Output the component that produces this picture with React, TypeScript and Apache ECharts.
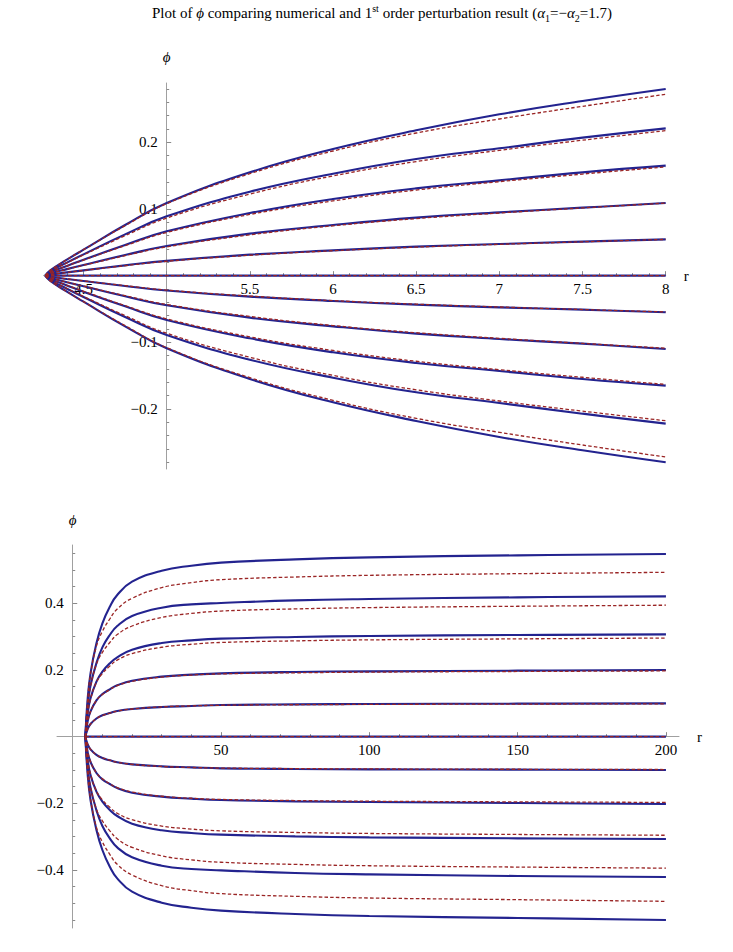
import React, { useEffect, useRef } from 'react';
import * as echarts from 'echarts';

// ---------- top chart (r from horizon to 8) ----------
const topR = [4.27, 4.3, 4.4, 4.5, 4.75, 5, 5.5, 6, 6.5, 7, 7.5, 8];
const topZero = [0, 0, 0, 0, 0, 0, 0, 0, 0, 0, 0, 0];
const topNumericalUpper = [
  [0, 0.0016, 0.0049, 0.008, 0.0155, 0.0222, 0.0315, 0.038, 0.0435, 0.0475, 0.051, 0.0545],
  [0, 0.0033, 0.0098, 0.016, 0.031, 0.0445, 0.063, 0.076, 0.087, 0.095, 0.102, 0.109],
  [0, 0.005, 0.0146, 0.024, 0.046, 0.0665, 0.094, 0.115, 0.131, 0.143, 0.155, 0.165],
  [0, 0.0066, 0.0196, 0.032, 0.062, 0.089, 0.126, 0.153, 0.175, 0.191, 0.207, 0.221],
  [0, 0.008, 0.024, 0.039, 0.076, 0.109, 0.155, 0.19, 0.218, 0.242, 0.262, 0.28],
];
const topNumericalLower = [
  [0, -0.0016, -0.0049, -0.008, -0.0155, -0.0222, -0.0315, -0.038, -0.0435, -0.0475, -0.051, -0.0548],
  [0, -0.0033, -0.0098, -0.016, -0.031, -0.0445, -0.063, -0.076, -0.087, -0.095, -0.102, -0.11],
  [0, -0.005, -0.0146, -0.024, -0.046, -0.0665, -0.094, -0.115, -0.131, -0.143, -0.155, -0.165],
  [0, -0.0066, -0.0196, -0.032, -0.062, -0.089, -0.126, -0.153, -0.175, -0.191, -0.207, -0.222],
  [0, -0.008, -0.024, -0.039, -0.076, -0.109, -0.155, -0.19, -0.218, -0.242, -0.262, -0.28],
];
const topPerturbUpper = [
  [0, 0.0016, 0.0048, 0.0078, 0.015, 0.0216, 0.0306, 0.0374, 0.0428, 0.047, 0.0508, 0.0544],
  [0, 0.0032, 0.0096, 0.0156, 0.03, 0.0432, 0.0612, 0.0748, 0.0856, 0.094, 0.1016, 0.1088],
  [0, 0.0048, 0.0144, 0.0234, 0.045, 0.0648, 0.0918, 0.1122, 0.1284, 0.141, 0.1524, 0.1632],
  [0, 0.0064, 0.0192, 0.0312, 0.06, 0.0864, 0.1224, 0.1496, 0.1712, 0.188, 0.2032, 0.2176],
  [0, 0.008, 0.024, 0.039, 0.075, 0.108, 0.153, 0.187, 0.214, 0.235, 0.254, 0.272],
];
const topPerturbLower = [
  [0, -0.0016, -0.0048, -0.0078, -0.015, -0.0216, -0.0306, -0.0374, -0.0428, -0.047, -0.0508, -0.0544],
  [0, -0.0032, -0.0096, -0.0156, -0.03, -0.0432, -0.0612, -0.0748, -0.0856, -0.094, -0.1016, -0.1088],
  [0, -0.0048, -0.0144, -0.0234, -0.045, -0.0648, -0.0918, -0.1122, -0.1284, -0.141, -0.1524, -0.1632],
  [0, -0.0064, -0.0192, -0.0312, -0.06, -0.0864, -0.1224, -0.1496, -0.1712, -0.188, -0.2032, -0.2176],
  [0, -0.008, -0.024, -0.039, -0.075, -0.108, -0.153, -0.187, -0.214, -0.235, -0.254, -0.272],
];
const topXTicks = [4.5, 5, 5.5, 6, 6.5, 7, 7.5, 8];
const topXLabels = [4.5, 5.5, 6, 6.5, 7, 7.5, 8];
const topYTicks = [-0.2, -0.1, 0.1, 0.2];
const topYLabels = [-0.2, -0.1, 0.1, 0.2];

// ---------- bottom chart (r from horizon to 200) ----------
const botR = [4.27, 5, 6, 8, 10, 12.5, 15, 20, 30, 40, 50, 75, 100, 150, 200];
const botZero = [0, 0, 0, 0, 0, 0, 0, 0, 0, 0, 0, 0, 0, 0, 0];
const botNumericalUpper = [
  [0, 0.0222, 0.038, 0.0545, 0.064, 0.071, 0.077, 0.083, 0.089, 0.092, 0.095, 0.097, 0.098, 0.099, 0.1],
  [0, 0.0445, 0.076, 0.109, 0.128, 0.142, 0.154, 0.168, 0.18, 0.186, 0.19, 0.194, 0.196, 0.198, 0.2],
  [0, 0.0665, 0.115, 0.165, 0.195, 0.22, 0.238, 0.261, 0.281, 0.289, 0.294, 0.299, 0.302, 0.305, 0.307],
  [0, 0.089, 0.153, 0.221, 0.268, 0.305, 0.332, 0.362, 0.387, 0.397, 0.401, 0.409, 0.413, 0.418, 0.421],
  [0, 0.109, 0.19, 0.28, 0.34, 0.39, 0.425, 0.465, 0.498, 0.513, 0.522, 0.532, 0.538, 0.544, 0.548],
];
const botNumericalLower = [
  [0, -0.0222, -0.038, -0.0545, -0.064, -0.071, -0.077, -0.083, -0.089, -0.092, -0.095, -0.097, -0.098, -0.099, -0.1],
  [0, -0.0445, -0.076, -0.109, -0.128, -0.142, -0.154, -0.168, -0.18, -0.186, -0.19, -0.194, -0.196, -0.199, -0.202],
  [0, -0.0665, -0.115, -0.165, -0.195, -0.22, -0.238, -0.261, -0.281, -0.289, -0.294, -0.299, -0.302, -0.305, -0.307],
  [0, -0.089, -0.153, -0.221, -0.268, -0.305, -0.332, -0.362, -0.387, -0.397, -0.401, -0.409, -0.413, -0.418, -0.421],
  [0, -0.109, -0.19, -0.28, -0.34, -0.39, -0.425, -0.465, -0.498, -0.513, -0.522, -0.532, -0.538, -0.544, -0.55],
];
const botPerturbUpper = [
  [0, 0.0216, 0.0374, 0.0544, 0.0632, 0.0706, 0.0766, 0.083, 0.0894, 0.0924, 0.0942, 0.0958, 0.0968, 0.0978, 0.0986],
  [0, 0.0432, 0.0748, 0.1088, 0.1264, 0.1412, 0.1532, 0.166, 0.1788, 0.1848, 0.1884, 0.1916, 0.1936, 0.1956, 0.1972],
  [0, 0.0648, 0.1122, 0.1632, 0.1896, 0.2118, 0.2298, 0.249, 0.2682, 0.2772, 0.2826, 0.2874, 0.2904, 0.2934, 0.2958],
  [0, 0.0864, 0.1496, 0.2176, 0.2528, 0.2824, 0.3064, 0.332, 0.3576, 0.3696, 0.3768, 0.3832, 0.3872, 0.3912, 0.3944],
  [0, 0.108, 0.187, 0.272, 0.316, 0.353, 0.383, 0.415, 0.447, 0.462, 0.471, 0.479, 0.484, 0.489, 0.493],
];
const botPerturbLower = [
  [0, -0.0216, -0.0374, -0.0544, -0.0632, -0.0706, -0.0766, -0.083, -0.0894, -0.0924, -0.0942, -0.0958, -0.0968, -0.0978, -0.0986],
  [0, -0.0432, -0.0748, -0.1088, -0.1264, -0.1412, -0.1532, -0.166, -0.1788, -0.1848, -0.1884, -0.1916, -0.1936, -0.1956, -0.1972],
  [0, -0.0648, -0.1122, -0.1632, -0.1896, -0.2118, -0.2298, -0.249, -0.2682, -0.2772, -0.2826, -0.2874, -0.2904, -0.2934, -0.2958],
  [0, -0.0864, -0.1496, -0.2176, -0.2528, -0.2824, -0.3064, -0.332, -0.3576, -0.3696, -0.3768, -0.3832, -0.3872, -0.3912, -0.3944],
  [0, -0.108, -0.187, -0.272, -0.316, -0.353, -0.383, -0.415, -0.447, -0.462, -0.471, -0.479, -0.484, -0.489, -0.494],
];
const botXTicks = [50, 100, 150, 200];
const botXLabels = [50, 100, 150, 200];
const botYTicks = [-0.4, -0.2, 0.2, 0.4];
const botYLabels = [-0.4, -0.2, 0.2, 0.4];

const SERIF = "'Liberation Serif', 'DejaVu Serif', serif";
const AXIS_GRAY = '#a0a0a0';
const TICK_GRAY = '#8a8a8a';
const SOLID = '#23238f';
const DASHED = '#9a2525';

function minorTicks(start: number, end: number, step: number, skip: number[]) {
  const out: number[] = [];
  const n = Math.round((end - start) / step);
  for (let i = 0; i <= n; i++) {
    const v = +(start + i * step).toFixed(4);
    if (!skip.some((s) => Math.abs(s - v) < 1e-6)) out.push(v);
  }
  return out;
}

const fmt = (v: number) => String(+(+v).toFixed(3)).replace('-', '\u2212');

function makeSeries(rs: number[], rows: number[][], xi: number, yi: number, dashed: boolean) {
  return rows.map((row) => ({
    type: 'line',
    xAxisIndex: xi,
    yAxisIndex: yi,
    data: rs.map((r, i) => [r, row[i]]),
    showSymbol: false,
    symbol: 'none',
    smooth: 0.45,
    silent: true,
    z: dashed ? 4 : 3,
    lineStyle: dashed
      ? { color: DASHED, width: 1.3, type: [3.5, 2.2] }
      : { color: SOLID, width: 2.1, type: 'solid' },
  }));
}

function mainAxis(dim: 'x' | 'y', grid: number, min: number, max: number, ticks: number[], labels: number[], extra: any) {
  return {
    type: 'value',
    gridIndex: grid,
    min,
    max,
    splitLine: { show: false },
    axisLine: { show: true, onZero: false, lineStyle: { color: AXIS_GRAY, width: 1 } },
    axisTick: { show: true, inside: true, length: 4.5, customValues: ticks, lineStyle: { color: TICK_GRAY, width: 1 } },
    axisLabel: {
      show: true,
      customValues: labels,
      formatter: fmt,
      fontFamily: SERIF,
      fontSize: 15,
      color: '#000',
      margin: dim === 'x' ? 6 : 9,
    },
    ...extra,
  };
}

function minorAxis(grid: number, min: number, max: number, ticks: number[], extra: any) {
  return {
    type: 'value',
    gridIndex: grid,
    min,
    max,
    splitLine: { show: false },
    axisLine: { show: false, onZero: false },
    axisTick: { show: true, inside: true, length: 2.5, customValues: ticks, lineStyle: { color: TICK_GRAY, width: 1 } },
    axisLabel: { show: false },
    ...extra,
  };
}

export default function App() {
  const ref = useRef<HTMLDivElement>(null);
  useEffect(() => {
    const chart = echarts.init(ref.current!, null, { renderer: 'svg' });

    // panel geometry (pixels)
    const topG = { left: 43.6, top: 83, width: 622.1, height: 386 };
    const topXMin = 4.26;
    const topXMax = 8;
    const topYMin = -0.29;
    const topYMax = 0.289;
    const botG = { left: 57, top: 545, width: 622, height: 383 };
    const botXMin = -5.3;
    const botXMax = 204.4;
    const botYMin = -0.574;
    const botYMax = 0.575;

    // axes cross at (5, 0) in the top panel and at (0, 0) in the bottom panel
    const topYOffset = -((5 - topXMin) / (topXMax - topXMin)) * topG.width;
    const topXOffset = -((0 - topYMin) / (topYMax - topYMin)) * topG.height;
    const botYOffset = -((0 - botXMin) / (botXMax - botXMin)) * botG.width;
    const botXOffset = -((0 - botYMin) / (botYMax - botYMin)) * botG.height;

    const nameStyle = { fontFamily: SERIF, fontSize: 15, color: '#000' };
    const phiStyle = { fontFamily: SERIF, fontSize: 15, color: '#000', fontStyle: 'italic' };

    const option: any = {
      animation: false,
      backgroundColor: '#fff',
      title: {
        left: 152,
        top: 2,
        padding: 0,
        text:
          '{n|Plot of }{i|\u03d5}{n| comparing numerical and 1}{sup|st}{n| order perturbation result (}{i|\u03b1}{sub|1}{n|=\u2212}{i|\u03b1}{sub|2}{n|=1.7)}',
        textStyle: {
          fontFamily: SERIF,
          fontSize: 15,
          fontWeight: 'normal',
          color: '#000',
          rich: {
            n: { fontFamily: SERIF, fontSize: 15, color: '#000', lineHeight: 21 },
            i: { fontFamily: SERIF, fontSize: 15, color: '#000', fontStyle: 'italic', lineHeight: 21 },
            sup: { fontFamily: SERIF, fontSize: 10, color: '#000', lineHeight: 10, verticalAlign: 'top', padding: [1, 0, 0, 0] },
            sub: { fontFamily: SERIF, fontSize: 10, color: '#000', lineHeight: 10, verticalAlign: 'bottom' },
          },
        },
      },
      grid: [
        { ...topG, containLabel: false },
        { ...botG, containLabel: false },
      ],
      xAxis: [
        mainAxis('x', 0, topXMin, topXMax, topXTicks, topXLabels, {
          position: 'bottom',
          offset: topXOffset,
          name: 'r',
          nameLocation: 'end',
          nameGap: 18,
          nameTextStyle: nameStyle,
        }),
        minorAxis(0, topXMin, topXMax, minorTicks(4.3, 8, 0.1, topXTicks), {
          position: 'bottom',
          offset: topXOffset,
        }),
        mainAxis('x', 1, botXMin, botXMax, botXTicks, botXLabels, {
          position: 'bottom',
          offset: botXOffset,
          name: 'r',
          nameLocation: 'end',
          nameGap: 18,
          nameTextStyle: nameStyle,
        }),
        minorAxis(1, botXMin, botXMax, minorTicks(10, 200, 10, botXTicks), {
          position: 'bottom',
          offset: botXOffset,
        }),
      ],
      yAxis: [
        mainAxis('y', 0, topYMin, topYMax, topYTicks, topYLabels, {
          position: 'left',
          offset: topYOffset,
          name: '\u03d5',
          nameLocation: 'end',
          nameGap: 19,
          nameTextStyle: phiStyle,
        }),
        minorAxis(0, topYMin, topYMax, minorTicks(-0.28, 0.28, 0.02, [...topYTicks, 0]), {
          position: 'left',
          offset: topYOffset,
        }),
        mainAxis('y', 1, botYMin, botYMax, botYTicks, botYLabels, {
          position: 'left',
          offset: botYOffset,
          name: '\u03d5',
          nameLocation: 'end',
          nameGap: 18,
          nameTextStyle: phiStyle,
        }),
        minorAxis(1, botYMin, botYMax, minorTicks(-0.55, 0.55, 0.05, [...botYTicks, 0]), {
          position: 'left',
          offset: botYOffset,
        }),
      ],
      series: [
        ...makeSeries(topR, [topZero, ...topNumericalUpper, ...topNumericalLower], 0, 0, false),
        ...makeSeries(topR, [topZero, ...topPerturbUpper, ...topPerturbLower], 0, 0, true),
        ...makeSeries(botR, [botZero, ...botNumericalUpper, ...botNumericalLower], 2, 2, false),
        ...makeSeries(botR, [botZero, ...botPerturbUpper, ...botPerturbLower], 2, 2, true),
      ],
    };
    chart.setOption(option);
    return () => chart.dispose();
  }, []);
  return (
    <div
      ref={ref}
      style={{ position: 'absolute', left: 0, top: 0, width: 733, height: 952, background: '#fff' }}
    />
  );
}
